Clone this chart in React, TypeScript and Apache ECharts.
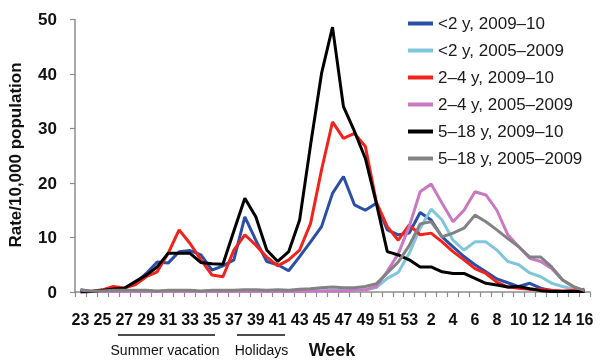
import React, { useEffect, useRef } from "react";
import * as echarts from "echarts";

const weeks = [
  "23", "24", "25", "26", "27", "28", "29", "30", "31", "32", "33", "34", "35", "36", "37", "38",
  "39", "40", "41", "42", "43", "44", "45", "46", "47", "48", "49", "50", "51", "52", "53",
  "1", "2", "3", "4", "5", "6", "7", "8", "9", "10", "11", "12", "13", "14", "15", "16",
];

const under2_2009 = [
  0.4, 0.1, 0.2, 0.5, 0.7, 1.6, 3.4, 5.5, 5.3, 7.4, 7.6, 6.8, 4.0, 4.8, 5.9, 13.8,
  9.5, 5.6, 5.0, 3.9, 6.5, 9.2, 12.0, 18.1, 21.2, 16.0, 15.0, 16.3, 11.4, 10.5, 10.8,
  14.6, 13.2, 10.1, 8.3, 6.5, 5.0, 3.7, 2.4, 1.7, 1.0, 1.6, 0.7, 0.25, 0.1, 0.1, 0.1,
];
const under2_2005 = [
  0.1, 0.1, 0.1, 0.1, 0.1, 0.1, 0.1, 0.1, 0.1, 0.1, 0.1, 0.1, 0.1, 0.1, 0.1, 0.1,
  0.1, 0.1, 0.1, 0.2, 0.2, 0.2, 0.2, 0.3, 0.3, 0.3, 0.4, 0.8, 2.5, 3.6, 7.1,
  11.7, 15.2, 13.2, 9.5, 7.7, 9.2, 9.2, 7.7, 5.6, 5.0, 3.5, 2.8, 1.6, 1.0, 0.5, 0.25,
];
const age2to4_2009 = [
  0.0, 0.1, 0.4, 1.0, 0.75, 1.3, 2.8, 3.7, 7.1, 11.4, 8.9, 5.9, 3.1, 2.8, 7.7, 10.5,
  8.6, 6.4, 4.8, 5.9, 7.7, 12.6, 22.4, 31.2, 28.2, 29.1, 26.7, 16.5, 12.0, 9.5, 12.3,
  10.5, 10.8, 9.2, 7.4, 5.9, 4.3, 3.4, 1.8, 0.9, 0.7, 0.5, 0.5, 0.3, 0.2, 0.3, 0.5,
];
const age2to4_2005 = [
  0.1, 0.1, 0.1, 0.1, 0.1, 0.1, 0.1, 0.1, 0.1, 0.1, 0.1, 0.1, 0.1, 0.1, 0.1, 0.1,
  0.1, 0.1, 0.1, 0.1, 0.1, 0.2, 0.2, 0.2, 0.2, 0.3, 0.4, 1.0, 3.8, 7.0, 12.0,
  18.4, 19.8, 16.3, 12.9, 15.0, 18.4, 17.8, 15.0, 10.5, 8.3, 6.2, 5.6, 4.3, 2.2, 0.9, 0.25,
];
const age5to18_2009 = [
  0.0, 0.1, 0.3, 0.55, 0.7, 1.9, 3.1, 4.6, 7.1, 7.1, 7.1, 5.4, 5.2, 5.1, 11.2, 17.2,
  13.8, 7.7, 5.6, 7.4, 13.2, 27.0, 40.1, 48.6, 34.0, 29.5, 24.5, 16.3, 7.4, 6.8, 5.9,
  4.6, 4.6, 3.7, 3.4, 3.4, 2.5, 1.6, 1.3, 0.9, 1.0, 0.6, 0.25, 0.1, 0.1, 0.1, 0.1,
];
const age5to18_2005 = [
  0.3, 0.2, 0.2, 0.3, 0.3, 0.3, 0.3, 0.2, 0.3, 0.3, 0.3, 0.2, 0.3, 0.3, 0.3, 0.4,
  0.4, 0.3, 0.4, 0.3, 0.5, 0.6, 0.8, 0.9, 0.8, 0.8, 1.0, 1.5, 3.5, 5.5, 8.5,
  12.5, 12.9, 10.1, 10.8, 11.7, 14.1, 12.9, 11.4, 9.8, 8.3, 6.4, 6.4, 4.6, 2.2, 1.0, 0.25,
];

const seriesNames = [
  "<2 y, 2009–10",
  "<2 y, 2005–2009",
  "2–4 y, 2009–10",
  "2–4 y, 2005–2009",
  "5–18 y, 2009–10",
  "5–18 y, 2005–2009",
];
const seriesData = [under2_2009, under2_2005, age2to4_2009, age2to4_2005, age5to18_2009, age5to18_2005];
const seriesColors = ["#2b4fa6", "#80c6db", "#f2231c", "#c979c1", "#000000", "#828282"];

const yTicks = { min: 0, max: 50, interval: 10 };

export default function App() {
  const ref = useRef<HTMLDivElement>(null);
  useEffect(() => {
    if (!ref.current) return;
    const chart = echarts.init(ref.current, null, { renderer: "svg" });
    const font = "'Liberation Sans', Arial, sans-serif";
    chart.setOption({
      animation: false,
      textStyle: { fontFamily: font },
      grid: { left: 75, right: 10, top: 19.5, bottom: 72, containLabel: false },
      legend: {
        orient: "vertical",
        left: 403,
        top: 10,
        icon: "rect",
        itemWidth: 25,
        itemHeight: 4,
        itemGap: 10,
        data: seriesNames,
        textStyle: { fontSize: 17, lineHeight: 17, color: "#1a1a1a", fontFamily: font, padding: [0, 0, 0, 0] },
      },
      xAxis: {
        type: "category",
        data: weeks,
        boundaryGap: true,
        axisLine: { lineStyle: { color: "#8c8c8c", width: 1.5 } },
        axisTick: { show: true, interval: 0, length: 5, lineStyle: { color: "#8c8c8c", width: 1.2 } },
        axisLabel: {
          interval: 1,
          margin: 19,
          fontSize: 16,
          fontWeight: "bold",
          color: "#111",
          fontFamily: font,
        },
        splitLine: { show: false },
      },
      yAxis: {
        type: "value",
        min: yTicks.min,
        max: yTicks.max,
        interval: yTicks.interval,
        axisLine: { show: true, lineStyle: { color: "#8c8c8c", width: 1.5 } },
        axisTick: { show: true, length: 5, lineStyle: { color: "#8c8c8c", width: 1.2 } },
        axisLabel: { margin: 18, fontSize: 17, fontWeight: "bold", color: "#111", fontFamily: font },
        splitLine: { show: false },
      },
      series: seriesNames.map((name, i) => ({
        name,
        type: "line",
        data: seriesData[i],
        symbol: "none",
        lineStyle: { width: 3, color: seriesColors[i] },
        itemStyle: { color: seriesColors[i] },
      })),
      graphic: [
        {
          type: "text",
          x: 15.5,
          y: 155,
          rotation: Math.PI / 2,
          style: {
            text: "Rate/10,000 population",
            fontSize: 17,
            fontWeight: "bold",
            fill: "#111",
            fontFamily: font,
            textAlign: "center",
            textVerticalAlign: "middle",
          },
        },
        {
          type: "line",
          shape: { x1: 118, y1: 335, x2: 215, y2: 335 },
          style: { stroke: "#111", lineWidth: 1.5 },
        },
        {
          type: "line",
          shape: { x1: 237, y1: 335, x2: 285, y2: 335 },
          style: { stroke: "#111", lineWidth: 1.5 },
        },
        {
          type: "text",
          x: 165,
          y: 350,
          style: {
            text: "Summer vacation",
            fontSize: 14,
            fill: "#111",
            fontFamily: font,
            textAlign: "center",
            textVerticalAlign: "middle",
          },
        },
        {
          type: "text",
          x: 261.5,
          y: 350,
          style: {
            text: "Holidays",
            fontSize: 14,
            fill: "#111",
            fontFamily: font,
            textAlign: "center",
            textVerticalAlign: "middle",
          },
        },
        {
          type: "text",
          x: 332,
          y: 350,
          style: {
            text: "Week",
            fontSize: 18,
            fontWeight: "bold",
            fill: "#111",
            fontFamily: font,
            textAlign: "center",
            textVerticalAlign: "middle",
          },
        },
      ],
    });
    return () => chart.dispose();
  }, []);
  return <div ref={ref} style={{ width: 600, height: 364, position: "fixed", left: 0, top: 0 }} />;
}
